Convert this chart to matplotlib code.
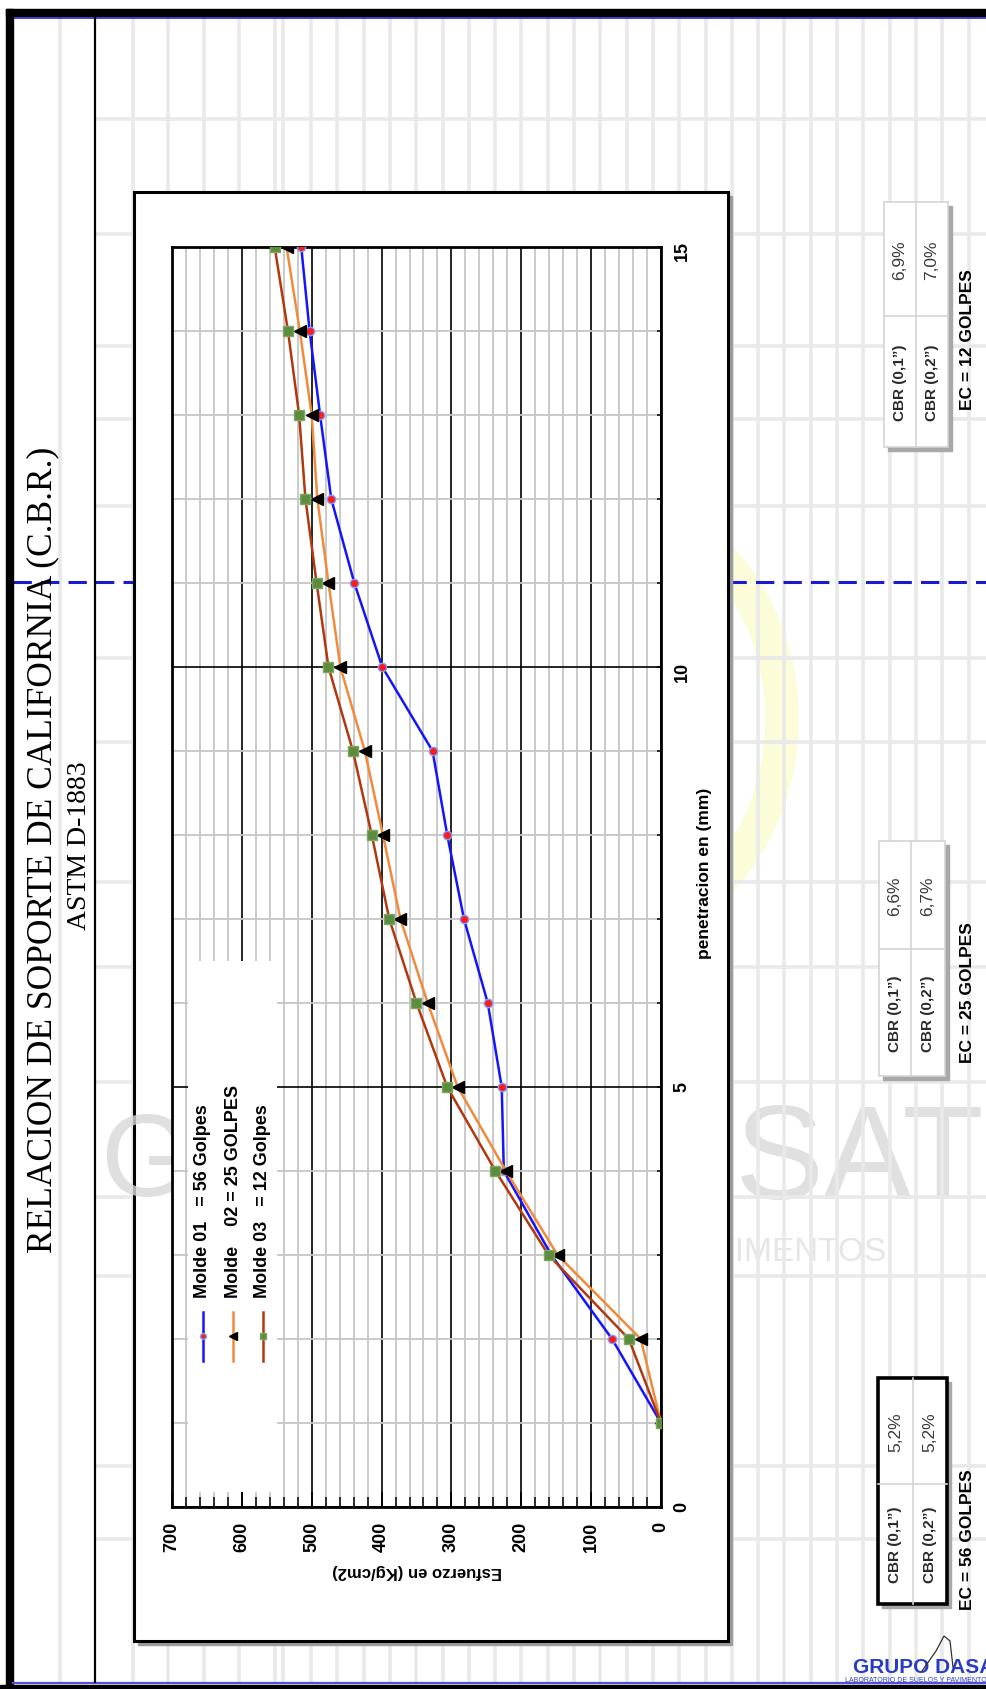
import numpy as np
import matplotlib

matplotlib.use("Agg")
import matplotlib.pyplot as plt
from matplotlib.patches import Rectangle, Ellipse
from matplotlib.lines import Line2D
from matplotlib.ticker import MultipleLocator

plt.rcParams["font.family"] = ["Liberation Sans", "DejaVu Sans"]

# --- data (penetration in mm, stress in kg/cm2) ---
penetracion = [1, 2, 3, 4, 5, 6, 7, 8, 9, 10, 11, 12, 13, 14, 15]
molde_56 = [0, 70, 157, 225, 228, 248, 282, 306, 327, 399, 439, 472, 488, 503, 515]
molde_25 = [0, 29, 148, 222, 291, 334, 373, 398, 424, 459, 476, 492, 500, 517, 536]
molde_12 = [0, 46, 161, 237, 306, 350, 389, 414, 441, 476, 493, 509, 518, 534, 553]
legend_labels = ["Molde 01   = 56 Golpes", "Molde    02 = 25 GOLPES", "Molde 03   = 12 Golpes"]

stress_ticks = [0, 100, 200, 300, 400, 500, 600, 700]
pen_ticks = [0, 5, 10, 15]

ec_labels = ["EC = 12 GOLPES", "EC = 25 GOLPES", "EC = 56 GOLPES"]
cbr_01 = ["6,9%", "6,6%", "5,2%"]
cbr_02 = ["7,0%", "6,7%", "5,2%"]

W, H = 986, 1690
fig = plt.figure(figsize=(W / 100, H / 100), dpi=100)

# page layer in pixel coordinates
bg = fig.add_axes([0, 0, 1, 1], zorder=0)
bg.set_xlim(0, W)
bg.set_ylim(H, 0)
bg.axis("off")

# faint watermark pieces
bg.add_patch(Ellipse((600, 720), 364, 430, fill=False, ec="#fcfcd8", lw=24, zorder=0.5))
bg.text(735, 1165, "SAT", fontsize=96, color="#e0e0e0", ha="left", va="center", zorder=0.6)
bg.text(887, 1253, "PAVIMENTOS", fontsize=24, color="#e6e6e6", ha="right", va="center", zorder=0.6)

# spreadsheet cell lines
grid_x = [60, 133, 168, 204, 239, 275, 283] + list(np.arange(311, W, 26.3))
for x in grid_x:
    bg.plot([x, x], [17, 1683], color="#e9e9e9", lw=2.6, zorder=1)
for y in [120, 235, 347, 420, 507, 659, 743, 883, 968, 1083, 1198, 1277, 1467, 1540]:
    bg.plot([97, W], [y, y], color="#e9e9e9", lw=2.6, zorder=1)

# blue dashed cut line
bg.plot([13, W], [583, 583], color="#1a1ad0", lw=2.2, ls=(0, (6, 3)), zorder=2)

# frame
bg.add_patch(Rectangle((6, 10), W - 6, 7, color="black", zorder=6))
bg.plot([13, W], [18.5, 18.5], color="#2222c8", lw=1.2, zorder=6)
bg.add_patch(Rectangle((6, 10), 7, H - 10, color="black", zorder=6))
bg.add_patch(Rectangle((0, 1686), W, 4, color="black", zorder=6))
bg.plot([13, W], [1683.5, 1683.5], color="#5050d8", lw=1.6, zorder=6)
bg.plot([95, 95], [17, 1683], color="black", lw=1.6, zorder=6)

# title column
bg.text(43, 850, "RELACION DE SOPORTE DE CALIFORNIA (C.B.R.)", rotation=90, fontsize=25.5,
        family="Liberation Serif", ha="center", va="center", zorder=7)
bg.text(80, 846, "ASTM D-1883", rotation=90, fontsize=20, family="Liberation Serif",
        ha="center", va="center", zorder=7)

# chart area box with shadow
bg.add_patch(Rectangle((138, 197), 594, 1449, color="#9c9c9c", zorder=3))
bg.add_patch(Rectangle((134, 193), 594, 1449, fc="white", ec="black", lw=2.2, zorder=4))
g_mark = bg.text(100, 1166, "G", fontsize=84, color="#d8d8d8", alpha=0.8, ha="left",
                 va="center", zorder=4.5)
g_mark.set_clip_path(Rectangle((97, 193), 75, 1449, transform=bg.transData))

bg.text(417, 1572, "Esfuerzo en (Kg/cm2)", rotation=180, fontsize=12, weight="bold",
        ha="center", va="center", zorder=5)
bg.text(704, 873, "penetracion en (mm)", rotation=90, fontsize=12.5, weight="bold",
        ha="center", va="center", zorder=5)

# CBR result tables
tables = [
    (884, 948, 203, 448, 916, 317, 340, False),
    (879, 945, 842, 1077, 911, 950, 993, False),
    (878, 947, 1379, 1605, 913, 1485, 1540, True),
]
for (x0, x1, y0, y1, xm, ym, yec, heavy), ec, v1, v2 in zip(tables, ec_labels, cbr_01, cbr_02):
    edge = "black" if heavy else "#d4d4d4"
    bg.add_patch(Rectangle((x0 + 4, y0 + 4), x1 - x0, y1 - y0, color="#a8a8a8", zorder=3))
    bg.add_patch(Rectangle((x0, y0), x1 - x0, y1 - y0, fc="white", ec=edge,
                           lw=2.6 if heavy else 1.2, zorder=4))
    bg.plot([xm, xm], [y0, y1], color="#d4d4d4", lw=1.2, zorder=4.5)
    bg.plot([x0, x1], [ym, ym], color="#d4d4d4", lw=1.2, zorder=4.5)
    for xc, val, lab in [((x0 + xm) / 2, v1, "CBR (0,1”)"), ((xm + x1) / 2, v2, "CBR (0,2”)")]:
        bg.text(xc, (y0 + ym) / 2, val, rotation=90, fontsize=12.5, color="#3a3a3a",
                ha="center", va="center", zorder=5)
        bg.text(xc, (ym + y1) / 2, lab, rotation=90, fontsize=11, weight="bold", color="#2a2a2a",
                ha="center", va="center", zorder=5)
    bg.text(967, yec, ec, rotation=90, fontsize=12.5, weight="bold", ha="center", va="center", zorder=5)

# logo at the bottom
bg.text(853, 1668, "GRUPO DASA", fontsize=15, weight="bold", color="#2b3cc4", ha="left",
        va="center", zorder=7)
bg.plot([922, 936, 944, 950, 953], [1672, 1652, 1637, 1642, 1668], color="#303030", lw=0.9, zorder=7)
bg.text(845, 1681, "LABORATORIO DE SUELOS Y PAVIMENTOS", fontsize=5, color="#2b3cc4",
        ha="left", va="center", zorder=7)

# --- chart (page is turned: stress runs right-to-left, penetration upward) ---
ax = fig.add_axes([172 / W, 1 - 1508 / H, 489 / W, 1260 / H], zorder=1)
ax.set_xlim(700, 0)
ax.set_ylim(0, 15)
ax.set_axisbelow(True)
ax.set_xticks(stress_ticks)
ax.xaxis.set_minor_locator(MultipleLocator(20))
ax.set_yticks(pen_ticks)
ax.yaxis.set_minor_locator(MultipleLocator(1))
ax.yaxis.tick_right()
ax.grid(which="minor", color="#c6c6c6", lw=1.3)
ax.grid(which="major", color="black", lw=1.2)
ax.tick_params(axis="x", which="major", direction="in", length=11, width=1.3,
               labelsize=13, labelrotation=90, pad=10)
ax.tick_params(axis="x", which="minor", direction="in", length=7, width=1.1)
ax.tick_params(axis="y", which="both", direction="in", length=3, width=1.1,
               labelsize=13, labelrotation=90, pad=9)
for lbl in ax.get_xticklabels() + ax.get_yticklabels():
    lbl.set_fontweight("bold")
for sp in ax.spines.values():
    sp.set_linewidth(2)

styles = [
    dict(color="#1414ff", marker="o", mfc="#ff1a1a", mec="#7f9cff", ms=6),
    dict(color="#f28a3c", marker="<", mfc="black", mec="black", ms=8),
    dict(color="#b2380f", marker="s", mfc="#5d8c3e", mec="#7ba861", ms=6.5),
]
for vals, st in zip([molde_56, molde_25, molde_12], styles):
    ax.plot(vals, penetracion, lw=1.8, zorder=3, **st)

# legend drawn by hand since the whole page is rotated
ax.add_patch(Rectangle((0.033, 0.012), 0.182, 0.421, transform=ax.transAxes,
                       fc="white", ec="none", zorder=1.5))
for xf, lab, st in zip([0.063, 0.125, 0.186], legend_labels, styles):
    ax.add_line(Line2D([xf, xf], [0.116, 0.155], transform=ax.transAxes, color=st["color"],
                       lw=1.8, zorder=4))
    ax.add_line(Line2D([xf], [0.1355], transform=ax.transAxes, marker=st["marker"],
                       mfc=st["mfc"], mec=st["mec"], ms=st["ms"] * 0.7, ls="none", zorder=5))
    ax.text(xf, 0.167, lab, transform=ax.transAxes, rotation=90, fontsize=13, weight="bold",
            ha="center", va="bottom", zorder=5)

fig.savefig("out.png", dpi=100)
